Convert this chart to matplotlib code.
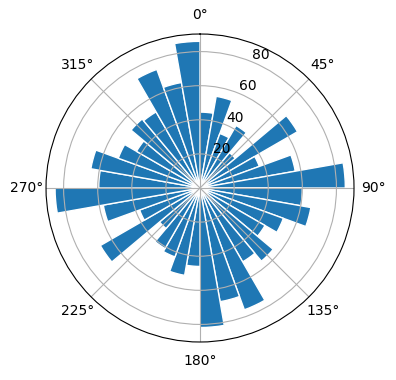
import numpy as np
import matplotlib
matplotlib.use("Agg")
import matplotlib.pyplot as plt

# sector start angles (degrees, clockwise from north) and bar lengths
sectors = np.arange(0, 360, 10)
values = [44.5, 54.6, 34, 42.3, 27, 66, 37, 56.7, 85.2,
          60, 66, 52, 44, 56, 50, 76, 67.7, 81.8,
          46, 52, 43, 41, 31, 67.5, 37.7, 57.6, 85,
          59.4, 65, 51, 43, 52.8, 51.5, 74, 62.8, 86]

fig = plt.figure(figsize=(3.96, 3.80), dpi=100)
ax = fig.add_axes([0.1162, 0.1, 0.7778, 0.8105], projection="polar")
ax.set_theta_zero_location("N")
ax.set_theta_direction(-1)

theta = np.deg2rad(sectors)
ax.bar(theta, values, width=np.deg2rad(10), align="edge",
       color="#1f77b4", edgecolor="white", linewidth=1)

ax.set_yticks([20, 40, 60, 80])
ax.grid(True, color="#b0b0b0")

fig.savefig("out.png", dpi=100)
